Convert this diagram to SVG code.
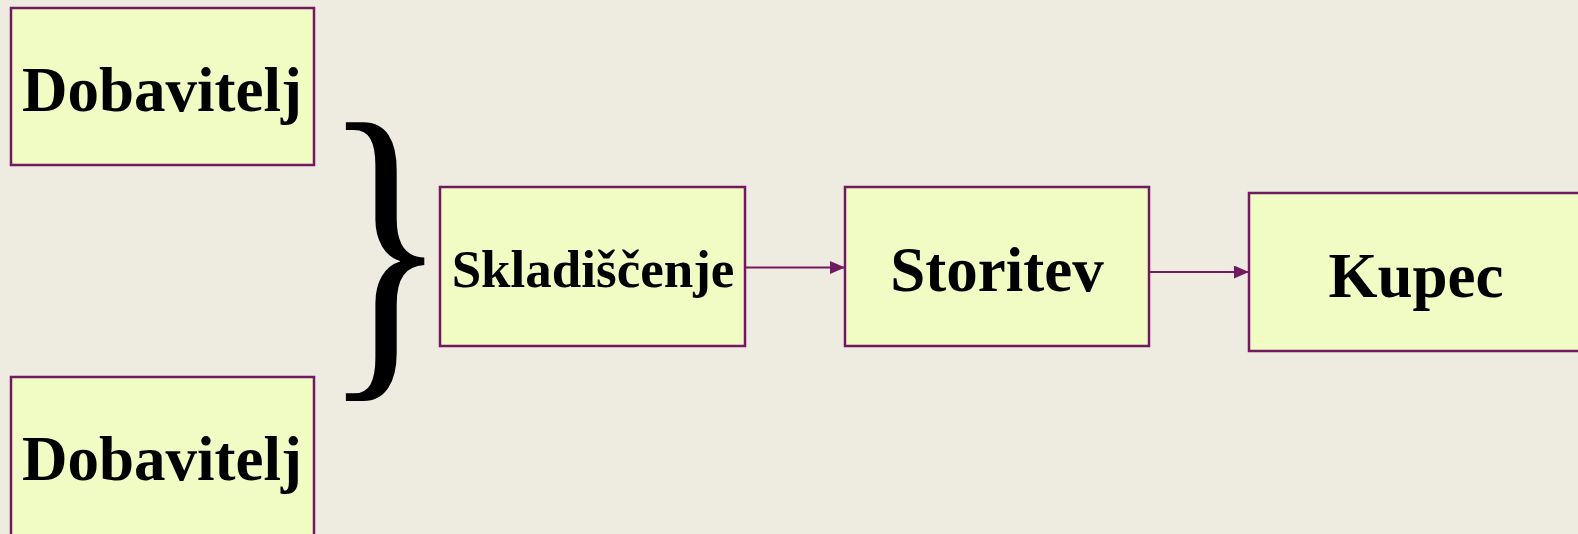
<svg xmlns="http://www.w3.org/2000/svg" width="1578" height="534" viewBox="0 0 1578 534">
<defs>
<style>
.box{fill:#f0fcc4;stroke:#721a5f;stroke-width:2.5}
.lbl{font-family:"Liberation Serif","Times New Roman",serif;font-weight:bold;fill:#000;text-anchor:middle}
.con{stroke:#721a5f;stroke-width:2;fill:none}
</style>
<marker id="ah" viewBox="0 0 15 13" refX="15" refY="6.5" markerWidth="15" markerHeight="13" markerUnits="userSpaceOnUse" orient="auto">
<path d="M0,0 L15,6.5 L0,13 Z" fill="#721a5f"/>
</marker>
</defs>
<rect width="1578" height="534" fill="#eeebe0"/>
<g id="dobavitelj1">
<rect class="box" x="11" y="8" width="303" height="157"/>
<text class="lbl" x="162" y="111" font-size="63">Dobavitelj</text>
</g>
<g id="dobavitelj2">
<rect class="box" x="11" y="377" width="303" height="170"/>
<text class="lbl" x="162" y="480" font-size="63">Dobavitelj</text>
</g>
<g id="brace">
<text x="0" y="0" font-family="Liberation Serif,Times New Roman,serif" font-size="337" fill="#000" transform="translate(322,356) scale(0.78,1)">}</text>
</g>
<g id="skladiscenje">
<rect class="box" x="440" y="187" width="305" height="159"/>
<text class="lbl" x="593" y="287" font-size="53">Skladiščenje</text>
</g>
<g id="storitev">
<rect class="box" x="845" y="187" width="304" height="159"/>
<text class="lbl" x="997" y="291" font-size="63">Storitev</text>
</g>
<g id="kupec">
<rect class="box" x="1249" y="193" width="340" height="158"/>
<text class="lbl" x="1416" y="297" font-size="63">Kupec</text>
</g>
<g id="connectors">
<line class="con" x1="745" y1="267.5" x2="845" y2="267.5" marker-end="url(#ah)"/>
<line class="con" x1="1149" y1="272" x2="1249" y2="272" marker-end="url(#ah)"/>
</g>
</svg>
